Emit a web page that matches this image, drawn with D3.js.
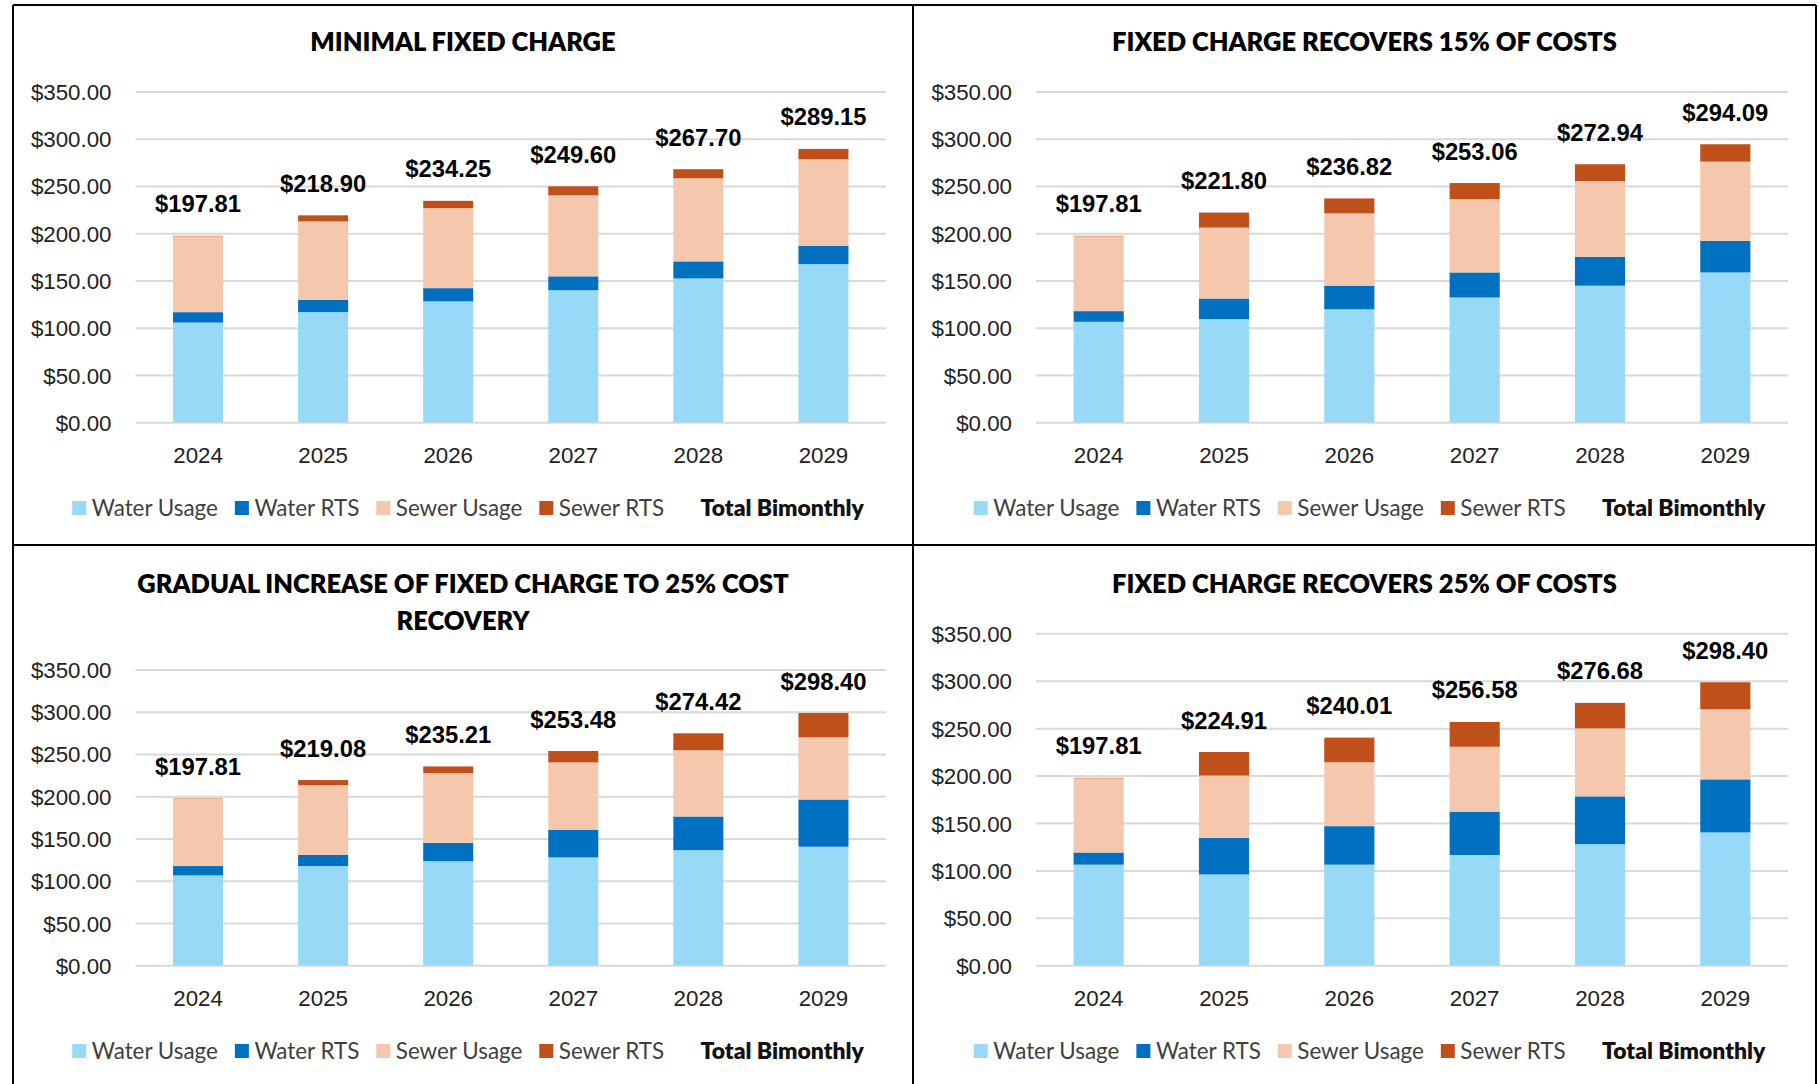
<!DOCTYPE html>
<html>
<head>
<meta charset="utf-8">
<script src="https://cdn.jsdelivr.net/npm/d3@7"></script>
<style>
  html, body { margin: 0; padding: 0; background: #fff; }
  svg { display: block; }
</style>
</head>
<body>
<svg id="chart" width="1819" height="1084"></svg>
<script>
// ---------------- DATA ----------------
const years = ["2024", "2025", "2026", "2027", "2028", "2029"];
const seriesNames = ["Water Usage", "Water RTS", "Sewer Usage", "Sewer RTS"];
const totalName = "Total Bimonthly";
const yTicks = [0, 50, 100, 150, 200, 250, 300, 350];

const titles = [
  ["MINIMAL FIXED CHARGE"],
  ["FIXED CHARGE RECOVERS 15% OF COSTS"],
  ["GRADUAL INCREASE OF FIXED CHARGE TO 25% COST", "RECOVERY"],
  ["FIXED CHARGE RECOVERS 25% OF COSTS"]
];

// Chart 1: Minimal fixed charge
const c1WaterUsage = [105.5, 116.5, 127.9, 139.7, 152.2, 167.3];
const c1WaterRTS   = [11.0, 12.9, 14.0, 14.7, 18.0, 19.5];
const c1SewerUsage = [80.2, 83.1, 84.6, 85.7, 87.9, 91.5];
const c1SewerRTS   = [0.5, 6.4, 7.75, 9.5, 9.6, 10.85];
const c1Total      = [197.81, 218.90, 234.25, 249.60, 267.70, 289.15];

// Chart 2: Fixed charge recovers 15%
const c2WaterUsage = [106.3, 109.2, 119.5, 132.0, 144.5, 158.5];
const c2WaterRTS   = [11.3, 21.7, 25.0, 26.5, 30.5, 33.4];
const c2SewerUsage = [79.1, 75.0, 76.5, 77.5, 80.1, 83.8];
const c2SewerRTS   = [0.5, 15.9, 15.8, 17.06, 17.84, 18.39];
const c2Total      = [197.81, 221.80, 236.82, 253.06, 272.94, 294.09];

// Chart 3: Gradual increase to 25%
const c3WaterUsage = [106.3, 117.4, 123.1, 127.6, 136.2, 140.3];
const c3WaterRTS   = [11.1, 13.1, 21.7, 32.8, 39.8, 55.8];
const c3SewerUsage = [79.6, 82.5, 82.5, 79.6, 78.4, 73.5];
const c3SewerRTS   = [0.5, 6.08, 7.91, 13.48, 20.02, 28.8];
const c3Total      = [197.81, 219.08, 235.21, 253.48, 274.42, 298.40];

// Chart 4: Fixed charge recovers 25%
const c4WaterUsage = [106.1, 95.8, 106.1, 116.3, 127.7, 140.1];
const c4WaterRTS   = [12.8, 38.4, 40.6, 45.7, 50.4, 55.9];
const c4SewerUsage = [78.2, 65.9, 67.3, 68.4, 71.7, 73.9];
const c4SewerRTS   = [0.5, 24.81, 26.01, 26.18, 26.88, 28.5];
const c4Total      = [197.81, 224.91, 240.01, 256.58, 276.68, 298.40];

const chartSeries = [
  [c1WaterUsage, c1WaterRTS, c1SewerUsage, c1SewerRTS],
  [c2WaterUsage, c2WaterRTS, c2SewerUsage, c2SewerRTS],
  [c3WaterUsage, c3WaterRTS, c3SewerUsage, c3SewerRTS],
  [c4WaterUsage, c4WaterRTS, c4SewerUsage, c4SewerRTS]
];
const chartTotals = [c1Total, c2Total, c3Total, c4Total];

// ---------------- STYLE / LAYOUT ----------------
const colors = ["#97D9F6", "#0070C0", "#F5C7AD", "#C0501A"];
const layout = [
  { cx: 463,    x0: 135.5, x1: 886,  yTop: 91.4,  yBot: 422.3, titleY: [41.7],          yearY: 454.7, legY: 508 },
  { cx: 1364.5, x0: 1036,  x1: 1788, yTop: 91.4,  yBot: 422.3, titleY: [41.7],          yearY: 454.7, legY: 508 },
  { cx: 463,    x0: 135.5, x1: 886,  yTop: 669.4, yBot: 965.3, titleY: [583.4, 620.5], yearY: 998,   legY: 1051 },
  { cx: 1364.5, x0: 1036,  x1: 1788, yTop: 633.3, yBot: 965.3, titleY: [583.4],         yearY: 998,   legY: 1051 }
];
const armFont = "'Liberation Sans', Arial, sans-serif";
const latoFont = "Lato, 'Open Sans', sans-serif";

const svg = d3.select("#chart");

layout.forEach((L, ci) => {
  const g = svg.append("g");
  const x = d3.scaleBand().domain(years).range([L.x0, L.x1]).paddingInner(0.6).paddingOuter(0.3);
  const y = d3.scaleLinear().domain([0, 350]).range([L.yBot, L.yTop]);

  // gridlines + y tick labels via axis
  const yAxis = d3.axisLeft(y).tickValues(yTicks)
    .tickSize(-(L.x1 - L.x0)).tickPadding(24)
    .tickFormat(d => "$" + d.toFixed(2));
  const ag = g.append("g").attr("transform", `translate(${L.x0},0)`).call(yAxis);
  ag.select(".domain").remove();
  ag.selectAll(".tick line").attr("stroke", "#d9d9d9").attr("stroke-width", 2);
  ag.selectAll(".tick text").attr("font-family", armFont).attr("font-size", 22.3)
    .attr("fill", "#222").attr("dy", "0.36em");

  // stacked bars
  const rows = years.map((yr, i) => {
    const o = { year: yr };
    seriesNames.forEach((s, k) => o[s] = chartSeries[ci][k][i]);
    return o;
  });
  const stacked = d3.stack().keys(seriesNames)(rows);
  stacked.forEach((layer, k) => {
    g.append("g").attr("fill", colors[k]).selectAll("rect")
      .data(layer).join("rect")
      .attr("x", d => x(d.data.year))
      .attr("width", x.bandwidth())
      .attr("y", d => y(d[1]))
      .attr("height", d => Math.max(0, y(d[0]) - y(d[1])));
  });

  // x labels
  const xg = g.append("g").attr("transform", `translate(0,${L.yearY})`)
    .call(d3.axisBottom(x).tickSize(0).tickPadding(0));
  xg.select(".domain").remove();
  xg.selectAll(".tick text").attr("font-family", armFont).attr("font-size", 22.3)
    .attr("fill", "#222").attr("dy", "0.36em");

  // total labels
  g.append("g").selectAll("text").data(chartTotals[ci]).join("text")
    .attr("x", (d, i) => x(years[i]) + x.bandwidth() / 2)
    .attr("y", d => y(d) - 32)
    .attr("dy", "0.36em")
    .attr("text-anchor", "middle")
    .attr("font-family", armFont).attr("font-weight", "bold").attr("font-size", 23.8)
    .attr("fill", "#000")
    .text(d => "$" + d.toFixed(2));

  // title
  titles[ci].forEach((t, li) => {
    g.append("text").attr("x", L.cx).attr("y", L.titleY[li]).attr("dy", "0.36em")
      .attr("text-anchor", "middle").attr("font-family", latoFont)
      .attr("font-weight", 800).attr("font-size", 25.5).attr("fill", "#000").text(t);
  });

  // legend
  const lg = g.append("g");
  let cursor = 0;
  const items = seriesNames.concat([totalName]);
  items.forEach((name, k) => {
    if (k < 4) {
      lg.append("rect").attr("x", cursor).attr("y", -7).attr("width", 14).attr("height", 14)
        .attr("fill", colors[k]);
    }
    const t = lg.append("text").attr("x", cursor + 19.5).attr("y", 0).attr("dy", "0.36em")
      .attr("font-family", latoFont).attr("font-size", k === 4 ? 22.9 : 22.4)
      .attr("font-weight", k === 4 ? 800 : "normal")
      .attr("fill", k === 4 ? "#111" : "#404040").text(name);
    cursor += 19.5 + t.node().getComputedTextLength() + 17;
  });
  const legW = cursor - 17;
  lg.attr("transform", `translate(${L.cx + 5 - legW / 2},${L.legY})`);
});

// panel borders
const borders = [
  [13, 5, 1816, 5],
  [13, 545, 1816, 545],
  [13, 5, 13, 1084],
  [913, 5, 913, 1084],
  [1816, 5, 1816, 1084]
];
svg.append("g").selectAll("line").data(borders).join("line")
  .attr("x1", d => d[0]).attr("y1", d => d[1]).attr("x2", d => d[2]).attr("y2", d => d[3])
  .attr("stroke", "#000").attr("stroke-width", 2);
</script>
</body>
</html>
